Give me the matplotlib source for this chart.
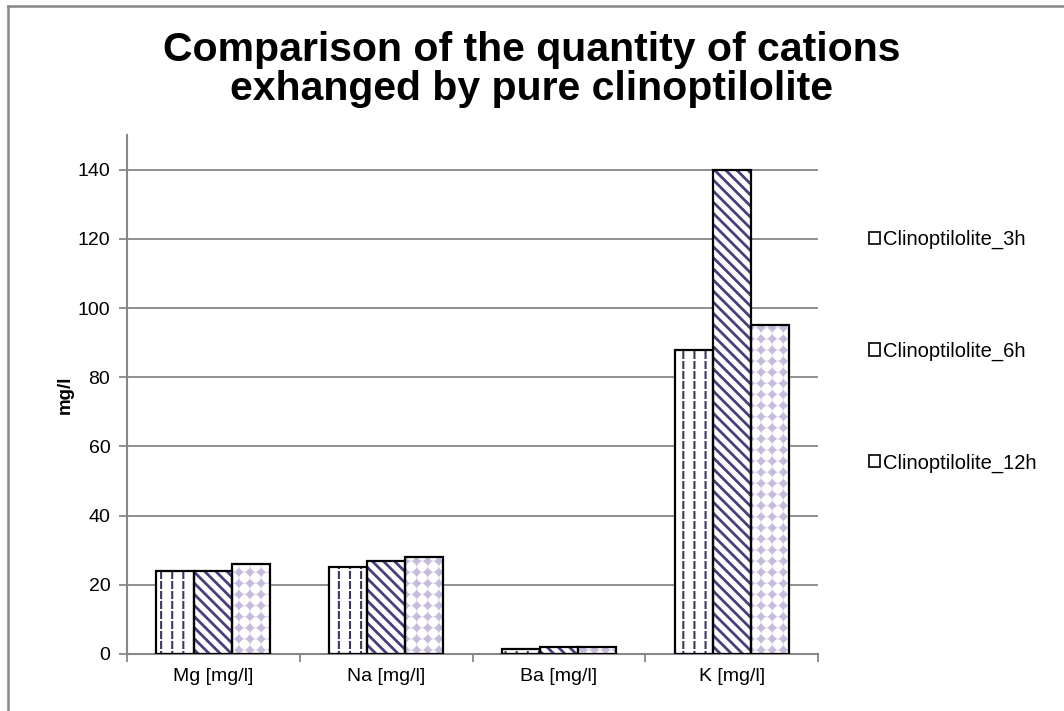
import numpy as np
import matplotlib
matplotlib.use("Agg")
import matplotlib.pyplot as plt
import matplotlib.hatch as mhatch
from matplotlib.path import Path
from matplotlib.lines import Line2D
from matplotlib.patches import Patch

# ---- data -------------------------------------------------------------
categories = ["Mg [mg/l]", "Na [mg/l]", "Ba [mg/l]", "K [mg/l]"]
series_names = ["Clinoptilolite_3h", "Clinoptilolite_6h", "Clinoptilolite_12h"]
values_3h = [24, 25, 1.5, 88]
values_6h = [24, 27, 2, 140]
values_12h = [26, 28, 2, 95]
y_ticks = [0, 20, 40, 60, 80, 100, 120, 140]


# ---- custom fill patterns (unit tile = 1 inch) -------------------------
class DashedVerticalHatch(mhatch.HatchPatternBase):
    """'|' : short vertical dashes arranged in columns."""
    def __init__(self, hatch, density):
        n = hatch.count('|')
        self.cols = 9 * n
        self.rows = 10
        self.num_vertices = self.cols * self.rows * 2

    def set_vertices_and_codes(self, vertices, codes):
        xs = (np.arange(self.cols) + 0.5) / self.cols
        step = 1.0 / self.rows
        y0 = np.arange(self.rows) * step + 0.2 * step
        y1 = y0 + 0.6 * step
        vertices[0::2, 0] = np.repeat(xs, self.rows)
        vertices[0::2, 1] = np.tile(y0, self.cols)
        vertices[1::2, 0] = np.repeat(xs, self.rows)
        vertices[1::2, 1] = np.tile(y1, self.cols)
        codes[0::2] = Path.MOVETO
        codes[1::2] = Path.LINETO


class DiagonalHatch(mhatch.HatchPatternBase):
    """'\\' : stripes running from upper left to lower right."""
    def __init__(self, hatch, density):
        n = hatch.count('\\')
        self.n = 9 * n
        self.num_vertices = (2 * self.n + 1) * 2 if self.n else 0

    def set_vertices_and_codes(self, vertices, codes):
        c = np.arange(2 * self.n + 1) / self.n
        vertices[0::2, 0] = c - 1.0
        vertices[0::2, 1] = 1.0
        vertices[1::2, 0] = c
        vertices[1::2, 1] = 0.0
        codes[0::2] = Path.MOVETO
        codes[1::2] = Path.LINETO


class DiamondDotHatch(mhatch.HatchPatternBase):
    """'.' : small filled diamonds on a square grid."""
    def __init__(self, hatch, density):
        n = hatch.count('.')
        self.n = 9 * n
        self.num_vertices = self.n * self.n * 5

    def set_vertices_and_codes(self, vertices, codes):
        n = self.n
        r = 0.33 / n
        centers = (np.arange(n) + 0.5) / n
        cx, cy = np.meshgrid(centers, centers)
        cx = cx.ravel()
        cy = cy.ravel()
        offs = [(0, r), (r, 0), (0, -r), (-r, 0), (0, r)]
        for k, (dx, dy) in enumerate(offs):
            vertices[k::5, 0] = cx + dx
            vertices[k::5, 1] = cy + dy
        codes[0::5] = Path.MOVETO
        codes[1::5] = Path.LINETO
        codes[2::5] = Path.LINETO
        codes[3::5] = Path.LINETO
        codes[4::5] = Path.CLOSEPOLY


class GridHatch(mhatch.HatchPatternBase):
    """'+' : fine grid passing through the diamond centres."""
    def __init__(self, hatch, density):
        n = hatch.count('+')
        self.n = 9 * n
        self.num_vertices = self.n * 4

    def set_vertices_and_codes(self, vertices, codes):
        n = self.n
        p = (np.arange(n) + 0.5) / n
        h = vertices[:2 * n]
        v = vertices[2 * n:]
        h[0::2, 0] = 0.0
        h[0::2, 1] = p
        h[1::2, 0] = 1.0
        h[1::2, 1] = p
        v[0::2, 0] = p
        v[0::2, 1] = 0.0
        v[1::2, 0] = p
        v[1::2, 1] = 1.0
        codes[0::2] = Path.MOVETO
        codes[1::2] = Path.LINETO


mhatch._hatch_types[:] = [DashedVerticalHatch, DiagonalHatch, GridHatch, DiamondDotHatch]

# ---- styling ------------------------------------------------------------
plt.rcParams['font.family'] = ['Liberation Sans', 'DejaVu Sans']
GRAY = '#878787'
C_DASH = '#3f3564'
C_DIAG = '#4c3d7c'
C_DOT = '#c6bbdc'
C_GRID = '#e6e0ef'
FS = 14

# each series: list of (hatch, colour, hatch linewidth) layers
series_styles = [
    [('|', C_DASH, 1.5)],
    [('\\', C_DIAG, 2.0)],
    [('+', C_GRID, 0.9), ('.', C_DOT, 0.8)],
]
series_values = [values_3h, values_6h, values_12h]

fig = plt.figure(figsize=(10.64, 7.11), dpi=100)
ax = fig.add_axes([0.1194, 0.0802, 0.6494, 0.7299])

x = np.arange(len(categories))
bar_w = 0.22
offsets = [-bar_w, 0.0, bar_w]


def hatched_bars(xpos, vals, layers):
    for i, (hp, col, hlw) in enumerate(layers):
        bars = ax.bar(xpos, vals, width=bar_w,
                      facecolor='white' if i == 0 else 'none',
                      edgecolor=col, linewidth=0, hatch=hp, zorder=2 + i * 0.1)
        for b in bars:
            if hasattr(b, 'set_hatch_linewidth'):
                b.set_hatch_linewidth(hlw)
    ax.bar(xpos, vals, width=bar_w, fill=False, edgecolor='black',
           linewidth=1.6, zorder=3)


for vals, off, layers in zip(series_values, offsets, series_styles):
    hatched_bars(x + off, vals, layers)

ax.set_xlim(-0.5, len(categories) - 0.5)
ax.set_ylim(0, 150)
ax.set_yticks(y_ticks)
ax.set_yticklabels([str(t) for t in y_ticks], fontsize=FS)
ax.yaxis.grid(True, color=GRAY, linewidth=1.3, zorder=0)
ax.set_axisbelow(True)

ax.set_xticks(np.arange(len(categories) + 1) - 0.5)
ax.set_xticklabels([])
ax.set_xticks(x, minor=True)
ax.set_xticklabels(categories, minor=True, fontsize=FS)
ax.tick_params(axis='x', which='minor', length=0, pad=10)
ax.tick_params(axis='x', which='major', length=6, width=1.3, color=GRAY)
ax.tick_params(axis='y', length=6, width=1.3, color=GRAY, pad=6)

for s in ('top', 'right'):
    ax.spines[s].set_visible(False)
for s in ('left', 'bottom'):
    ax.spines[s].set_color(GRAY)
    ax.spines[s].set_linewidth(1.5)

ax.set_ylabel('mg/l', fontsize=13.5, fontweight='bold', labelpad=3)

# legend
handles = [Patch(facecolor='white', edgecolor='black', linewidth=1.2)
           for _ in series_styles]
fig.legend(handles, series_names, loc='center left',
           bbox_to_anchor=(0.800, 0.506), frameon=False, fontsize=14.5,
           handlelength=0.55, handleheight=0.55, handletextpad=0.15,
           labelspacing=4.6)

# title
fig.text(0.5, 0.9025, 'Comparison of the quantity of cations\nexhanged by pure clinoptilolite',
         ha='center', va='center', fontsize=29.5, fontweight='bold', linespacing=1.05)

# chart-area frame (left and top edges)
fig.add_artist(Line2D([8.0 / 1064, 8.0 / 1064], [0, 1 - 6 / 711],
                      transform=fig.transFigure, color=GRAY, linewidth=1.8))
fig.add_artist(Line2D([8.0 / 1064, 1.0], [1 - 6 / 711, 1 - 6 / 711],
                      transform=fig.transFigure, color=GRAY, linewidth=1.8))

fig.savefig('out.png', dpi=100, facecolor='white')
